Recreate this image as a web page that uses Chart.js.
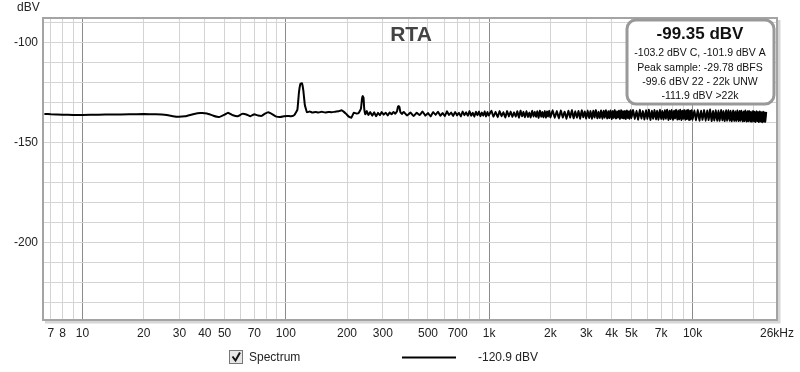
<!DOCTYPE html>
<html>
<head>
<meta charset="utf-8">
<script src="https://cdn.jsdelivr.net/npm/chart.js@4.4.1/dist/chart.umd.min.js"></script>
<style>
  html, body { margin: 0; padding: 0; background: #fff; }
  #wrap { width: 800px; height: 372px; position: relative; }
</style>
</head>
<body>
<div id="wrap"><canvas id="rtaChart" width="800" height="372"></canvas></div>
<script>
// x tick positions (Hz) and their labels ('' = gridline only)
const xTicks = [7, 8, 9, 10, 20, 30, 40, 50, 60, 70, 80, 90, 100, 200, 300, 400, 500, 600, 700, 800, 900,
    1000, 2000, 3000, 4000, 5000, 6000, 7000, 8000, 9000, 10000, 20000, 26000];
const xLabels = ['7', '8', '', '10', '20', '30', '40', '50', '', '70', '', '', '100', '200', '300', '', '500', '', '700', '', '',
    '1k', '2k', '3k', '4k', '5k', '', '7k', '', '', '10k', '', '26kHz'];
const xMajors = [10, 100, 1000, 10000];

const yTicks = [-230, -220, -210, -200, -190, -180, -170, -160, -150, -140, -130, -120, -110, -100, -90];
const yLabeled = [-100, -150, -200];

// spectrum
const freqs = [
    6.5, 7, 8, 9, 10, 12, 14, 17, 20, 23, 26, 29, 32, 35, 38, 41, 44, 47, 50, 52, 55, 58, 61, 64, 67, 70, 73, 76, 79, 82, 86, 90, 94, 98,
    102, 106, 110, 114, 116, 118, 120, 122, 124, 127, 131, 135, 140, 145, 150, 156, 162, 168, 175, 182, 188, 193, 198,
    204, 210, 216, 222, 228, 234, 237, 239, 241, 243, 246, 250, 255, 260, 266, 272, 278, 284, 290, 296,
    303, 310, 317, 324, 331, 338, 345, 352, 356, 359, 362, 366, 372,
    380, 395, 410, 425, 440, 455, 470, 485, 500, 515, 530, 545, 560, 575,
    590, 605, 620, 635, 650, 665, 680, 695, 710, 725, 740, 755, 770, 785,
    800, 815, 830, 845, 860, 875, 890, 905, 920, 935, 950, 965, 980, 995,
    1025, 1050, 1075, 1100, 1125, 1150, 1175, 1200, 1225, 1250, 1275, 1300, 1325, 1350, 1375, 1400, 1425, 1450, 1475, 1500,
    1525, 1550, 1575, 1600, 1625, 1650, 1675, 1700, 1725, 1750, 1775, 1800, 1825, 1850, 1875, 1900, 1925, 1950, 1975, 2000,
    2050, 2100, 2150, 2200, 2250, 2300, 2350, 2400, 2450, 2500, 2550, 2600, 2650, 2700, 2750, 2800, 2850, 2900, 2950, 3000,
    3050, 3100, 3150, 3200, 3250, 3300, 3350, 3400, 3450, 3500, 3550, 3600, 3650, 3700, 3750, 3800, 3850, 3900, 3950, 4000,
    4050, 4100, 4150, 4200, 4250, 4300, 4350, 4400, 4450, 4500, 4550, 4600, 4650, 4700, 4750, 4800, 4850, 4900, 4950, 5000,
    5100, 5200, 5300, 5400, 5500, 5600, 5700, 5800, 5900, 6000, 6100, 6200, 6300, 6400, 6500, 6600, 6700, 6800, 6900, 7000,
    7100, 7200, 7300, 7400, 7500, 7600, 7700, 7800, 7900, 8000, 8100, 8200, 8300, 8400, 8500, 8600, 8700, 8800, 8900, 9000,
    9100, 9200, 9300, 9400, 9500, 9600, 9700, 9800, 9900, 10000,
    10200, 10400, 10600, 10800, 11000, 11200, 11400, 11600, 11800, 12000, 12200, 12400, 12600, 12800, 13000,
    13200, 13400, 13600, 13800, 14000, 14200, 14400, 14600, 14800, 15000, 15200, 15400, 15600, 15800, 16000,
    16200, 16400, 16600, 16800, 17000, 17200, 17400, 17600, 17800, 18000, 18200, 18400, 18600, 18800, 19000,
    19200, 19400, 19600, 19800, 20000, 20200, 20400, 20600, 20800, 21000, 21200, 21400, 21600, 21800, 22000,
    22200, 22400, 22600, 22800, 23000
];
const levels = [
    -135.6, -135.8, -136.0, -136.1, -136.1, -136.0, -135.9, -135.8, -135.7, -135.8, -136.2, -137.0, -136.8, -135.8,
    -135.2, -135.4, -136.5, -137.2, -136.0, -135.0, -136.3, -136.8, -135.6, -135.9, -136.8, -135.8, -136.4, -136.6,
    -135.5, -134.8, -135.8, -137.0, -137.2, -136.8,
    -136.6, -136.8, -136.2, -133.5, -125.0, -120.5, -120.2, -124.0, -131.0, -134.8, -134.4, -134.9, -134.6, -134.9,
    -134.5, -134.9, -134.6, -134.8, -134.5, -134.3, -133.8, -134.6, -135.6,
    -137.0, -137.5, -135.0, -135.4, -135.2, -133.0, -128.0, -126.7, -127.5, -133.0, -135.8, -134.2, -136.2, -134.6,
    -136.5, -134.8, -136.8, -135.0, -136.3, -134.7,
    -136.0, -135.0, -136.4, -134.9, -135.8, -134.6, -135.5, -134.3, -132.0, -131.7, -132.2, -134.8, -135.6,
    -134.6, -136.4, -134.9, -136.7, -135.0, -136.2, -134.4, -136.5, -135.2, -136.9, -134.7, -136.1, -134.5, -136.6,
    -135.1, -136.8, -134.3, -136.2, -134.9, -136.7, -134.6, -136.4, -135.0, -136.9, -134.4, -136.3, -134.8, -136.6,
    -134.2, -136.5, -135.0, -137.0, -134.6, -136.3, -134.4, -136.8, -134.9, -136.5, -134.3, -136.9, -134.7, -136.4,
    -134.0, -137.1, -134.5, -137.3, -134.2, -136.8, -134.7, -137.4, -134.1, -136.9, -134.4, -137.2, -134.8, -137.0,
    -134.3, -137.5, -134.0, -136.8, -134.6, -137.3, -134.2, -137.1, -134.9, -137.4, -134.1, -136.9, -134.5, -137.2,
    -134.3, -137.6, -134.0, -137.0, -134.7, -137.3, -134.2, -137.5, -134.4, -136.9, -134.1, -137.4,
    -133.8, -137.6, -134.2, -137.9, -133.9, -137.4, -134.5, -138.0, -134.0, -137.5, -133.7, -137.8, -134.3, -137.6, -134.1,
    -138.0, -133.8, -137.3, -134.4, -137.9, -133.9, -137.7, -134.2, -138.1, -134.0, -137.4, -133.7, -137.8, -134.5, -137.6,
    -133.9, -138.0, -134.1, -137.5, -133.8, -137.9, -134.3, -137.7, -133.9, -138.2, -134.2, -137.6, -133.7, -137.9, -134.4,
    -137.5, -134.0, -138.1, -133.8, -137.7, -134.3, -137.9, -134.1, -138.2, -133.9, -137.6, -134.4, -138.0, -133.8, -137.8,
    -133.7, -138.2, -134.0, -138.5, -133.6, -137.9, -134.2, -138.4, -133.8, -138.1, -133.5, -138.6, -134.1, -138.0, -133.7, -138.3, -134.0,
    -138.5, -133.6, -138.1, -134.2, -138.4, -133.8, -138.0, -133.5, -138.6, -134.0, -138.2, -133.7, -138.5, -134.1, -137.9, -133.6, -138.4,
    -133.9, -138.3, -133.5, -138.6, -134.1, -138.0, -133.7, -138.5, -133.9, -138.2, -133.6, -138.7, -134.0, -138.4, -133.8, -138.6,
    -133.8, -138.8, -133.5, -139.0, -134.0, -138.6, -133.7, -139.1, -133.9, -138.7, -133.4, -139.2, -134.1, -138.9, -133.6, -139.0,
    -133.9, -139.1, -133.7, -138.8, -134.2, -139.2, -133.8, -139.0, -133.6, -139.0, -134.1, -139.3, -133.9, -139.1, -134.3, -139.1,
    -133.8, -139.2, -134.2, -139.0, -134.0, -139.3, -134.4, -139.2, -133.9, -139.4, -134.3, -139.3, -134.1, -139.4, -134.5, -139.5,
    -134.2, -139.3, -134.6, -139.6, -134.3, -139.2, -134.7, -139.7, -134.4, -139.4, -134.8, -139.8, -134.5, -139.5, -134.9, -139.6, -134.6
];

const infoLines = ['-103.2 dBV C, -101.9 dBV A', 'Peak sample: -29.78 dBFS', '-99.6 dBV 22 - 22k UNW', '-111.9 dBV >22k'];

const FONT = '"Liberation Sans", Arial, sans-serif';

const decorations = {
    id: 'decorations',
    afterDraw(chart) {
        const ctx = chart.ctx;
        const a = chart.chartArea;
        ctx.save();

        // plot frame with soft shadow
        ctx.strokeStyle = '#d6d6d6';
        ctx.lineWidth = 3;
        ctx.beginPath();
        ctx.moveTo(a.right + 2, a.top + 2);
        ctx.lineTo(a.right + 2, a.bottom + 2);
        ctx.lineTo(a.left + 2, a.bottom + 2);
        ctx.stroke();
        ctx.strokeStyle = '#a4a4a4';
        ctx.lineWidth = 2;
        ctx.strokeRect(a.left, a.top, a.right - a.left, a.bottom - a.top);

        // unit label
        ctx.fillStyle = '#222';
        ctx.font = '12px ' + FONT;
        ctx.textAlign = 'left';
        ctx.textBaseline = 'middle';
        ctx.fillText('dBV', 17, 8);

        // title
        ctx.fillStyle = '#444';
        ctx.font = 'bold 21px ' + FONT;
        ctx.textAlign = 'center';
        ctx.fillText('RTA', 411, 35);

        // info box
        const bx = 627, by = 20, bw = 147, bh = 84, r = 9;
        ctx.beginPath();
        ctx.roundRect(bx, by, bw, bh, r);
        ctx.fillStyle = '#fff';
        ctx.fill();
        ctx.strokeStyle = '#999';
        ctx.lineWidth = 3;
        ctx.stroke();
        ctx.fillStyle = '#111';
        ctx.font = 'bold 17px ' + FONT;
        ctx.fillText('-99.35 dBV', 700, 34);
        ctx.font = '10.5px ' + FONT;
        const lineY = [53, 68, 82, 96];
        infoLines.forEach((t, i) => ctx.fillText(t, 700, lineY[i]));

        // legend row
        ctx.fillStyle = '#e6e6e6';
        ctx.fillRect(230, 351, 12, 12);
        ctx.strokeStyle = '#777';
        ctx.lineWidth = 1;
        ctx.strokeRect(229.5, 350.5, 13, 13);
        ctx.strokeStyle = '#111';
        ctx.lineWidth = 2;
        ctx.beginPath();
        ctx.moveTo(232.5, 356.5);
        ctx.lineTo(235.5, 360.5);
        ctx.lineTo(240, 352.5);
        ctx.stroke();
        ctx.fillStyle = '#222';
        ctx.font = '12px ' + FONT;
        ctx.textAlign = 'left';
        ctx.fillText('Spectrum', 249, 358);
        ctx.strokeStyle = '#000';
        ctx.lineWidth = 2;
        ctx.beginPath();
        ctx.moveTo(402, 357.5);
        ctx.lineTo(456, 357.5);
        ctx.stroke();
        ctx.fillText('-120.9 dBV', 478, 358);

        ctx.restore();
    },
};

new Chart(document.getElementById('rtaChart'), {
    type: 'line',
    data: {
        datasets: [
            {
                label: 'Spectrum',
                data: freqs.map((f, i) => ({ x: f, y: levels[i] })),
                borderColor: '#000',
                borderWidth: 2,
                pointRadius: 0,
                tension: 0.1,
                fill: false,
            },
        ],
    },
    options: {
        responsive: false,
        animation: false,
        layout: { padding: { top: 18, right: 22, left: 0, bottom: 0 } },
        plugins: {
            legend: { display: false },
            tooltip: { enabled: false },
        },
        scales: {
            x: {
                type: 'logarithmic',
                min: 6.4,
                max: 26000,
                border: { display: false },
                afterBuildTicks: (scale) => {
                    scale.ticks = xTicks.map((v) => ({ value: v }));
                },
                afterFit: (scale) => {
                    scale.height = 52;
                },
                grid: {
                    drawTicks: false,
                    color: (c) => (c.tick && xMajors.includes(c.tick.value) ? '#8a8a8a' : '#d4d4d4'),
                },
                ticks: {
                    autoSkip: false,
                    maxRotation: 0,
                    padding: 6,
                    color: '#222',
                    font: { family: FONT, size: 12 },
                    callback: (v) => {
                        const i = xTicks.indexOf(v);
                        return i >= 0 ? xLabels[i] : '';
                    },
                },
            },
            y: {
                min: -239,
                max: -87.5,
                border: { display: false },
                afterBuildTicks: (scale) => {
                    scale.ticks = yTicks.map((v) => ({ value: v }));
                },
                afterFit: (scale) => {
                    scale.width = 43;
                },
                grid: {
                    drawTicks: false,
                    color: '#d4d4d4',
                },
                ticks: {
                    padding: 5,
                    color: '#222',
                    font: { family: FONT, size: 12 },
                    callback: (v) => (yLabeled.includes(v) ? String(v) : ''),
                },
            },
        },
    },
    plugins: [decorations],
});
</script>
</body>
</html>
